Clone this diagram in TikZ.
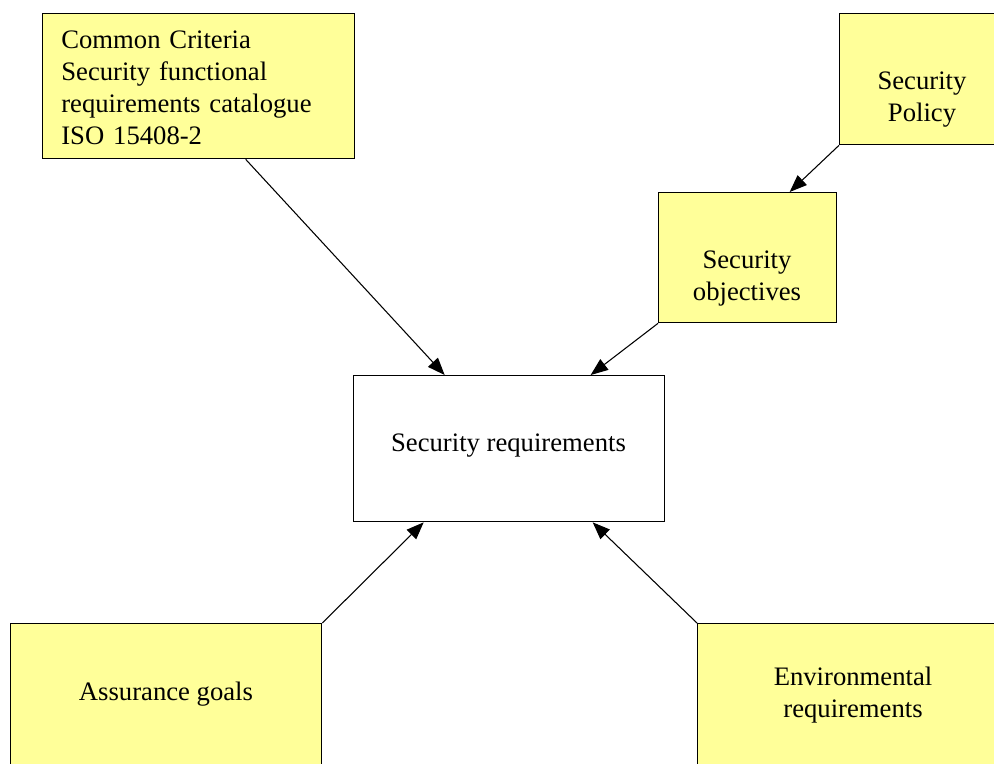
\documentclass[tikz,border=0pt]{standalone}
\usepackage{fontspec}
\setmainfont{Liberation Serif}
\usetikzlibrary{arrows.meta,calc}
\definecolor{note}{HTML}{FFFF99}
\begin{document}
\begin{tikzpicture}[x=0.75pt,y=-0.75pt,
  box/.style={draw=black,line width=1pt,fill=note,inner sep=0pt,anchor=north west},
  plainbox/.style={draw=black,line width=1pt,fill=white,inner sep=0pt,anchor=north west},
  lbl/.style={font=\fontsize{20}{24}\selectfont,align=center,inner sep=0pt},
  flow/.style={line width=0.8pt,-{Triangle[length=13pt,width=10pt]}}]
\useasboundingbox (0,0) rectangle (994,763);
\clip (0,0) rectangle (994,763);

% boxes
\node[box,minimum width=234pt,minimum height=108.75pt,
      font=\fontsize{20}{24}\selectfont,align=left,text width=206pt]
      (cc) at (42,13) {\rule{0pt}{16pt}Common Criteria\\Security functional\\requirements catalogue\\ISO 15408-2};
\node[box,minimum width=127.5pt,minimum height=98.25pt] (pol) at (839,13) {};
\node[lbl] (poltxt) at (922,100) {Security\\Policy};
\node[box,minimum width=133.5pt,minimum height=97.5pt] (obj) at (658,192) {};
\node[lbl] (objtxt) at (747,279) {Security\\objectives};
\node[plainbox,minimum width=233.25pt,minimum height=109.5pt] (req) at (353,375) {};
\node[lbl] (reqtxt) at (508.5,446) {Security requirements};
\node[box,minimum width=233.25pt,minimum height=110pt] (ag) at (10,623) {};
\node[lbl] (agtxt) at (166,694) {Assurance goals};
\node[box,minimum width=240pt,minimum height=110pt] (env) at (697,623) {};
\node[lbl] (envtxt) at (853,695) {Environmental\\requirements};

% connectors
\draw[flow] ($(cc.south)+(47,0)$) -- ($(req.north)+(-64.5,0)$);
\draw[flow] (pol.south west) -- ($(obj.north)+(42,0)$);
\draw[flow] (obj.south west) -- ($(req.north)+(81.5,0)$);
\draw[flow] (ag.north east) -- ($(req.south)+(-85.5,0)$);
\draw[flow] (env.north west) -- ($(req.south)+(83.5,0)$);
\end{tikzpicture}
\end{document}
